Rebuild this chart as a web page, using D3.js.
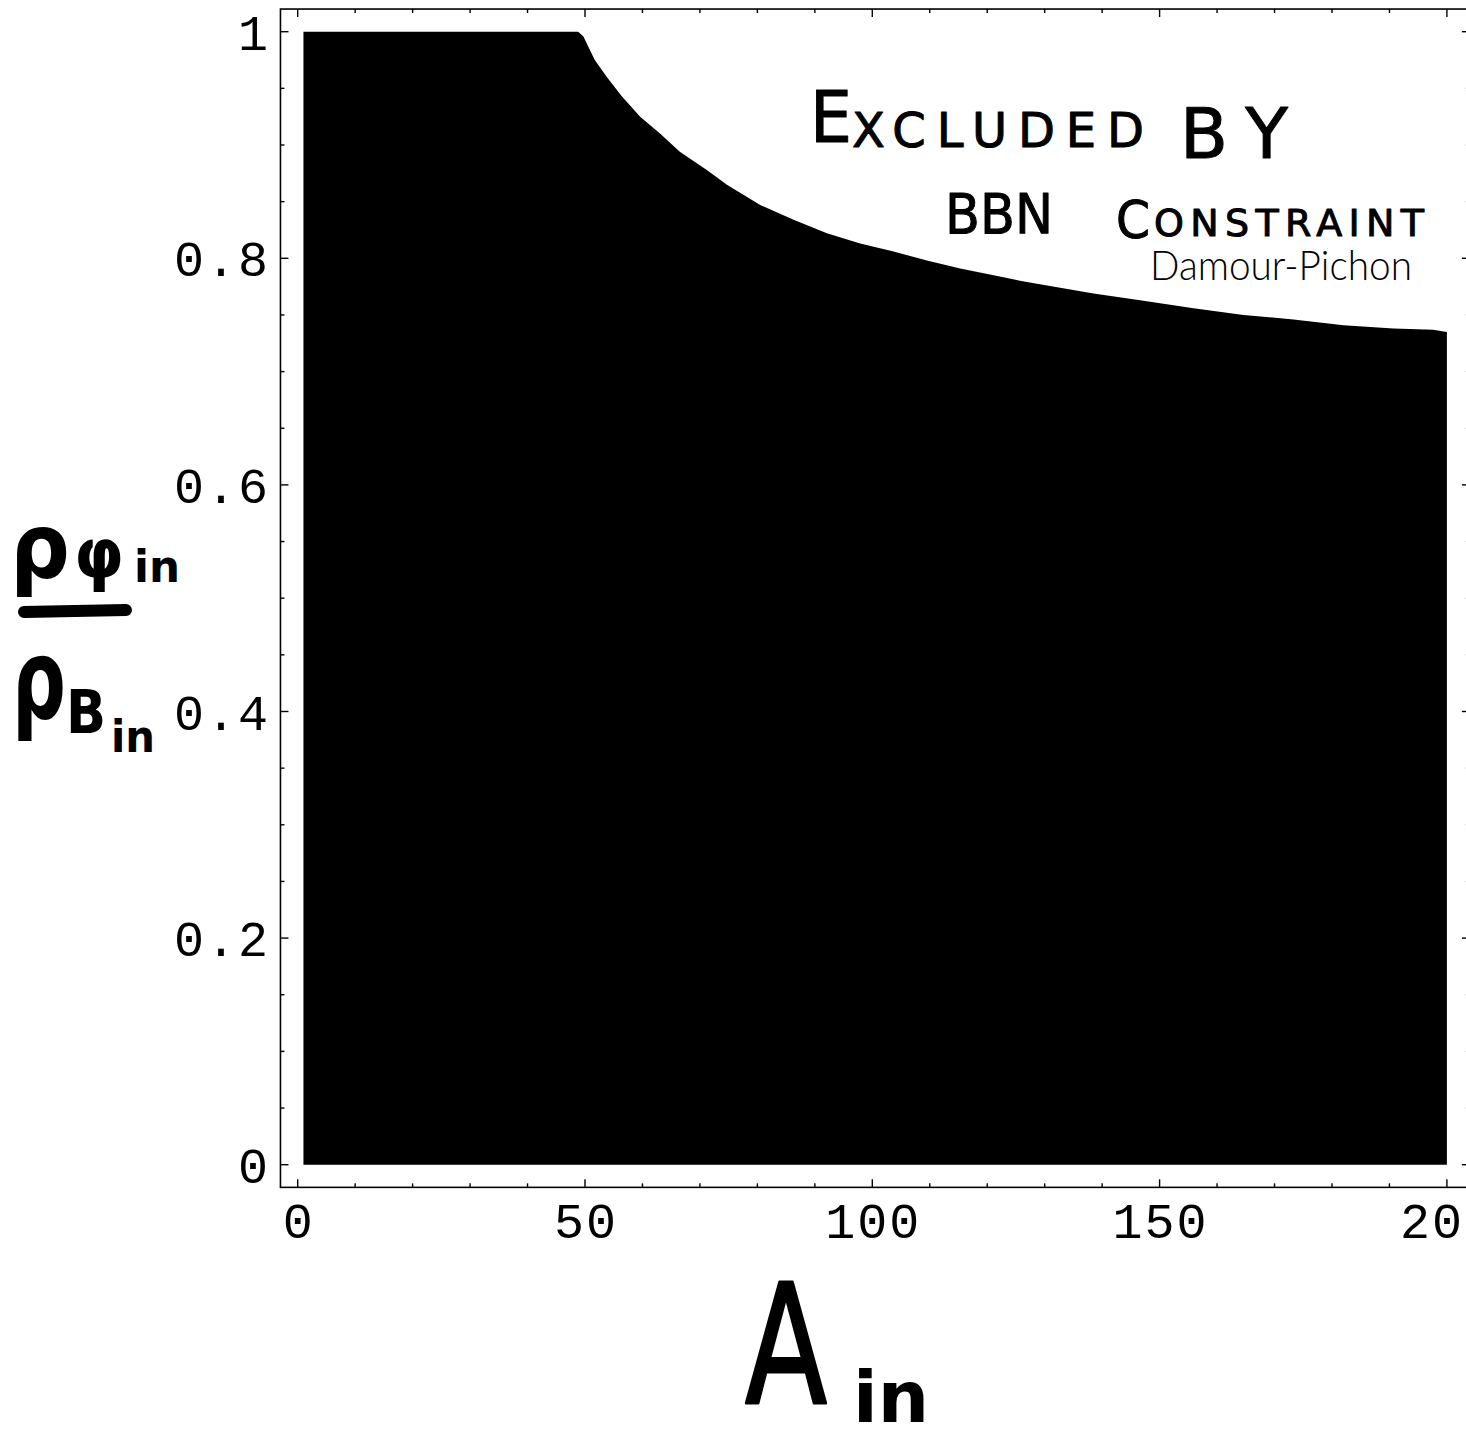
<!DOCTYPE html>
<html>
<head>
<meta charset="utf-8">
<script src="https://cdn.jsdelivr.net/npm/d3@7"></script>
<style>
  html, body { margin: 0; padding: 0; background: #fff; }
  svg { display: block; }
  .tickLabel { font-family: "Liberation Mono", "DejaVu Sans Mono", monospace; font-size: 50px; letter-spacing: 2px; fill: #000; }
  .hand { font-family: "DejaVu Sans", sans-serif; fill: #000; }
</style>
</head>
<body>
<svg id="chart"></svg>
<script>
//------------------------------------------------------------------------------

const boundaryA = [
  1, 48.8, 49.7, 51.7, 53.8, 56.4, 59.6, 63.1, 66.5, 71.2, 74.7, 80.5, 86.3,
  92.1, 97.9, 103.7, 109.5, 115.3, 121.1, 126.9, 132.7, 138.5, 146.6, 155.9,
  164.6, 173.3, 182.0, 190.7, 197.6, 200
];
const boundaryRatio = [
  1, 1, 0.996, 0.975, 0.960, 0.943, 0.925, 0.910, 0.894, 0.878, 0.865, 0.847, 0.834,
  0.822, 0.813, 0.806, 0.798, 0.791, 0.785, 0.779, 0.774, 0.769, 0.763, 0.756,
  0.750, 0.746, 0.741, 0.738, 0.737, 0.735
];

const xTicks = [0, 50, 100, 150, 200];
const xMinorTicks = d3.range(0, 210, 10).filter(v => v % 50);
const yTicks = [0, 0.2, 0.4, 0.6, 0.8, 1];
const yTickLabels = ['0', '0.2', '0.4', '0.6', '0.8', '1'];
const yMinorTicks = d3.range(0.05, 1.0, 0.05).filter((v, i) => (i % 4) !== 3);

/** plot range incl. Mathematica's padding */
const xDomain = [-3, 204];
const yDomain = [-0.02, 1.02];

const dLog = console.debug;

//------------------------------------------------------------------------------

const
width = 1466,
height = 1435,
x = d3.scaleLinear().domain([0, 200]).range([297.7, 297.7 + 200 * 5.746]),
y = d3.scaleLinear().domain([0, 1]).range([1164.7, 31.7]),
svg = d3.select('#chart').attr('width', width).attr('height', height);

// allowed region
const area = d3.area()
  .x((d, i) => x(boundaryA[i]))
  .y0(y(0))
  .y1((d, i) => y(boundaryRatio[i]));

svg.append('path')
  .attr('class', 'allowed')
  .datum(boundaryA)
  .attr('d', area)
  .attr('fill', '#000');

//------------------------------------------------------------------------------
// frame, with inward ticks on all 4 sides

const
frameL = x(xDomain[0]), frameR = x(xDomain[1]),
frameT = y(yDomain[1]), frameB = y(yDomain[0]),
gF = svg.append('g').attr('class', 'frame')
  .attr('stroke', '#000').attr('fill', 'none');

gF.append('rect')
  .attr('x', frameL).attr('y', frameT)
  .attr('width', frameR - frameL).attr('height', frameB - frameT)
  .attr('stroke-width', 1.6);

function xTickLines(values, len) {
  [[frameB, -len], [frameT, len]].forEach(([y0, dy]) => {
    gF.selectAll(null).data(values).enter().append('line')
      .attr('x1', d => x(d)).attr('x2', d => x(d))
      .attr('y1', y0).attr('y2', y0 + dy)
      .attr('stroke-width', 1.4);
  });
}
function yTickLines(values, len) {
  [[frameL, len], [frameR, -len]].forEach(([x0, dx]) => {
    gF.selectAll(null).data(values).enter().append('line')
      .attr('y1', d => y(d)).attr('y2', d => y(d))
      .attr('x1', x0).attr('x2', x0 + dx)
      .attr('stroke-width', 1.4);
  });
}
xTickLines(xTicks, 8);
xTickLines(xMinorTicks, 4);
yTickLines(yTicks, 8);
yTickLines(yMinorTicks, 4);

// tick labels ; the last x label runs off the right edge, as in the original
svg.append('g').selectAll('text').data(xTicks).enter().append('text')
  .attr('class', 'tickLabel')
  .attr('x', d => x(d) + 1)
  .attr('y', 1238)
  .attr('text-anchor', 'middle')
  .text(d => d);

svg.append('g').selectAll('text').data(yTicks).enter().append('text')
  .attr('class', 'tickLabel')
  .attr('x', 270)
  .attr('y', d => y(d) + 18)
  .attr('text-anchor', 'end')
  .text((d, i) => yTickLabels[i]);

//------------------------------------------------------------------------------
// hand-written labels

function hand(txt, px, py, size, len, opts = {}) {
  const t = svg.append('text')
    .attr('class', 'hand')
    .attr('x', px).attr('y', py)
    .attr('font-size', size)
    .attr('font-weight', opts.weight || 'normal')
    .text(txt);
  if (len) {
    t.attr('textLength', len).attr('lengthAdjust', opts.adjust || 'spacing');
  }
  if (opts.stroke) {
    t.attr('stroke', '#000').attr('stroke-width', opts.stroke).attr('stroke-linejoin', 'round');
  }
  if (opts.family) {
    t.style('font-family', opts.family);
  }
  return t;
}

// x axis label : A_in
hand('A', 745, 1403, 165, 82, {adjust: 'spacingAndGlyphs', stroke: 3});
hand('in', 853, 1422, 72, 76, {weight: 'bold', adjust: 'spacingAndGlyphs'});

// y axis label : rho_phi_in / rho_B_in
hand('ρ', 10, 578, 90, 60, {weight: 'bold', adjust: 'spacingAndGlyphs'});
hand('φ', 74, 578, 70, 50, {weight: 'bold', adjust: 'spacingAndGlyphs'});
hand('in', 134, 582, 44, 46, {weight: 'bold', adjust: 'spacingAndGlyphs'});
svg.append('line')
  .attr('x1', 24).attr('x2', 126).attr('y1', 612).attr('y2', 610)
  .attr('stroke', '#000').attr('stroke-width', 12).attr('stroke-linecap', 'round');
hand('ρ', 12, 718, 110, 54, {weight: 'bold', adjust: 'spacingAndGlyphs'});
hand('B', 66, 733, 60, 40, {weight: 'bold', adjust: 'spacingAndGlyphs'});
hand('in', 111, 752, 44, 44, {weight: 'bold', adjust: 'spacingAndGlyphs'});

// annotation of the excluded region
hand('E', 810, 142, 72, 42, {adjust: 'spacingAndGlyphs', stroke: 1});
hand('XCLUDED', 852, 147, 48, 292, {adjust: 'spacing', stroke: 1});
hand('BY', 1180, 158, 70, 108, {adjust: 'spacing', stroke: 1});
hand('BBN', 945, 233, 56, 108, {adjust: 'spacingAndGlyphs', stroke: 1});
hand('C', 1116, 238, 52, 34, {adjust: 'spacingAndGlyphs', stroke: 1});
hand('ONSTRAINT', 1154, 236, 38, 270, {adjust: 'spacing', stroke: 1});
hand('Damour-Pichon', 1150, 280, 42, 262, {adjust: 'spacingAndGlyphs', family: '"Lato", "DejaVu Sans", sans-serif', weight: 300});

dLog('drawn', boundaryA.length);
</script>
</body>
</html>
